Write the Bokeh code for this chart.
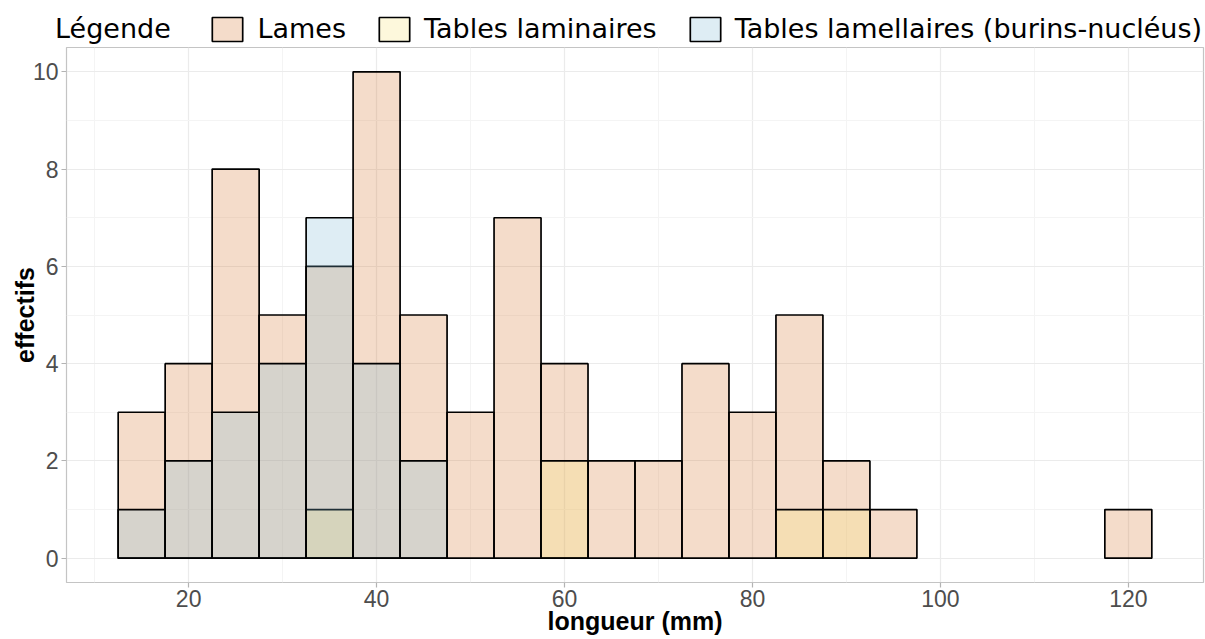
from bokeh.plotting import figure
from bokeh.models import Legend, LegendItem, FixedTicker, ColumnDataSource
from bokeh.embed import file_html
from bokeh.resources import INLINE

# ---- data ----
bin_centers = [15, 20, 25, 30, 35, 40, 45, 50, 55, 60, 65, 70, 75, 80, 85, 90, 95, 100, 105, 110, 115, 120]
lames = [3, 4, 8, 5, 6, 10, 5, 3, 7, 4, 2, 2, 4, 3, 5, 2, 1, 0, 0, 0, 0, 1]
tables_laminaires = [0, 0, 0, 0, 1, 0, 0, 0, 0, 2, 0, 0, 0, 0, 1, 1, 0, 0, 0, 0, 0, 0]
tables_lamellaires = [1, 2, 3, 4, 7, 4, 2, 0, 0, 0, 0, 0, 0, 0, 0, 0, 0, 0, 0, 0, 0, 0]
series_names = ["Lames", "Tables laminaires", "Tables lamellaires (burins-nucléus)"]
legend_title = "Légende"
x_ticks = [20, 40, 60, 80, 100, 120]
x_minor = [10, 30, 50, 70, 90, 110]
y_ticks = [0, 2, 4, 6, 8, 10]
y_minor = [1, 3, 5, 7, 9]
x_label = "longueur (mm)"
y_label = "effectifs"

BIN_W = 5
colors = ["#D3732B", "#F7E373", "#7DB6D4"]
ALPHA = 0.25
LINE_W = 1.7

W, H = 1205, 639
LEG_H = 45
MAIN_H = H - LEG_H


def bins_source(counts):
    xs = [c for c, n in zip(bin_centers, counts) if n > 0]
    ns = [n for n in counts if n > 0]
    return ColumnDataSource(dict(
        left=[x - BIN_W / 2 for x in xs],
        right=[x + BIN_W / 2 for x in xs],
        top=ns,
        bottom=[0] * len(ns),
    ))


all_series = [lames, tables_laminaires, tables_lamellaires]

# ---- legend strip (separate root, its frame covers the whole strip) ----
lf = figure(width=W, height=LEG_H, x_range=(200, 201), y_range=(200, 201),
            output_backend="svg", toolbar_location=None,
            x_axis_type=None, y_axis_type=None,
            min_border=0, min_border_left=0, min_border_right=0,
            min_border_top=0, min_border_bottom=0)
lf.outline_line_color = None
lf.grid.visible = False
dummy = lf.quad(left=[], right=[], top=[], bottom=[], fill_alpha=0, line_alpha=0)
leg_renderers = [lf.quad(left="left", right="right", top="top", bottom="bottom",
                         source=bins_source(s), fill_color=c,
                         fill_alpha=ALPHA, line_color="black", line_width=LINE_W)
                 for s, c in zip(all_series, colors)]
items = [LegendItem(label=legend_title + " ", renderers=[dummy])]
items += [LegendItem(label=n, renderers=[r]) for n, r in zip(series_names, leg_renderers)]
legend = Legend(items=items, orientation="horizontal", location=(6, 1),
                glyph_width=38, glyph_height=30, label_standoff=11, spacing=29,
                padding=0, margin=0, border_line_color=None, background_fill_alpha=0,
                label_text_font="DejaVu Sans", label_text_font_size="27px",
                label_text_color="black", label_height=30)
lf.add_layout(legend, "center")

# ---- main plot ----
p = figure(width=W, height=MAIN_H, x_range=(7, 128), y_range=(-0.5, 10.5),
           output_backend="svg", toolbar_location=None,
           min_border_left=66, min_border_right=2,
           min_border_top=2, min_border_bottom=57)
p.background_fill_color = "white"
p.border_fill_color = "white"
p.outline_line_color = "#C4C4C4"
p.outline_line_width = 1.2

for s, col in zip(all_series, colors):
    p.quad(left="left", right="right", top="top", bottom="bottom", source=bins_source(s),
           fill_color=col, fill_alpha=ALPHA, line_color="black", line_width=LINE_W)

p.xaxis.ticker = FixedTicker(ticks=x_ticks, minor_ticks=x_minor)
p.yaxis.ticker = FixedTicker(ticks=y_ticks, minor_ticks=y_minor)
for ax in (p.xaxis[0], p.yaxis[0]):
    ax.axis_line_color = None
    ax.major_tick_line_color = "#B3B3B3"
    ax.major_tick_line_width = 1.2
    ax.major_tick_out = 5
    ax.major_tick_in = 0
    ax.minor_tick_line_color = None
    ax.major_label_text_color = "#4D4D4D"
    ax.major_label_text_font = "Liberation Sans"
    ax.major_label_text_font_size = "23px"
    ax.axis_label_text_font = "Liberation Sans"
    ax.axis_label_text_font_style = "bold"
    ax.axis_label_text_font_size = "25px"
    ax.axis_label_text_color = "black"
p.xaxis.axis_label = x_label
p.yaxis.axis_label = y_label
p.xaxis.major_label_standoff = 2
p.xaxis.axis_label_standoff = -3
p.yaxis.major_label_standoff = 3
p.yaxis.axis_label_standoff = -9

for g in (p.xgrid[0], p.ygrid[0]):
    g.grid_line_color = "#EBEBEB"
    g.grid_line_width = 1.2
    g.minor_grid_line_color = "#F4F4F4"
    g.minor_grid_line_width = 1

open("out.html", "w").write(file_html([lf, p], INLINE))
